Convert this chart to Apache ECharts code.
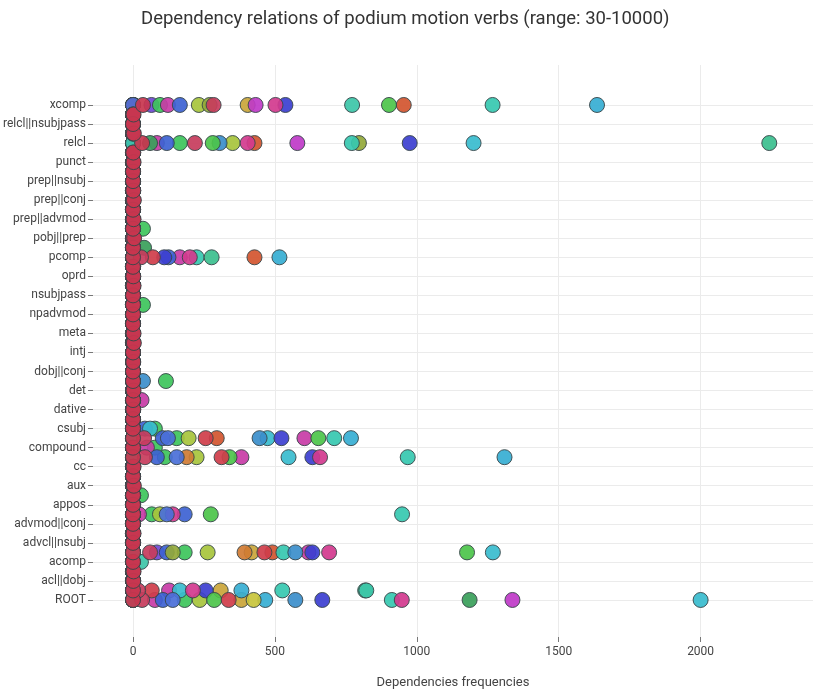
<!DOCTYPE html>
<html>
<head>
<meta charset="utf-8">
<script src="https://cdn.jsdelivr.net/npm/echarts@6/dist/echarts.min.js"></script>
<style>
html,body{margin:0;padding:0;background:#fff;}
#chart{width:813px;height:694px;}
</style>
</head>
<body>
<div id="chart"></div>
<script>
// ---- data ----
const categories = [
  'ROOT','acl','acl||dobj','acl||pobj','acomp','advcl','advcl||nsubj','advmod','advmod||conj','amod',
  'appos','attr','aux','auxpass','cc','ccomp','compound','conj','csubj','csubjpass',
  'dative','dep','det','dobj','dobj||conj','expl','intj','mark','meta','neg',
  'npadvmod','nsubj','nsubjpass','nummod','oprd','parataxis','pcomp','pobj','pobj||prep','prep',
  'prep||advmod','prep||amod','prep||conj','prep||dobj','prep||nsubj','prt','punct','quantmod','relcl','relcl||dobj',
  'relcl||nsubjpass','relcl||pobj','xcomp'
];
const yTickLabels = [
  'ROOT','acl||dobj','acomp','advcl||nsubj','advmod||conj','appos','aux','cc','compound','csubj',
  'dative','det','dobj||conj','intj','meta','npadvmod','nsubjpass','oprd','pcomp','pobj||prep',
  'prep||advmod','prep||conj','prep||nsubj','punct','relcl','relcl||nsubjpass','xcomp'
];
const xTickValues = [0, 500, 1000, 1500, 2000];

// frequencies per verb (relations not listed are 0)
const verb01 = [];
const verb02 = [['xcomp',65],['advcl',84]];
const verb03 = [['xcomp',95],['relcl',165],['prep',35],['nsubj',35],['dobj',116],['csubj',77],['compound',77],['conj',154],['ccomp',112],['attr',28],['amod',66],['advcl',182],['ROOT',182]];
const verb04 = [['xcomp',123],['relcl',84],['pcomp',165],['dep',30],['compound',49],['conj',604],['ccomp',382],['amod',21],['advcl',618],['acl',127],['ROOT',77]];
const verb05 = [['xcomp',165],['relcl',119],['pcomp',125],['csubj',42],['conj',105],['ccomp',84],['amod',182],['advcl',119],['ROOT',105]];
const verb06 = [['xcomp',232],['relcl',351],['conj',196],['ccomp',224],['amod',95],['advcl',263],['ROOT',235]];
const verb07 = [['xcomp',270],['relcl',796],['advcl',140]];
const verb08 = [['xcomp',954],['relcl',428],['pcomp',428],['conj',295],['advcl',491]];
const verb09 = [['xcomp',404],['advcl',418],['acl',309],['ROOT',382]];
const verb10 = [['xcomp',1267],['relcl',771],['pcomp',224],['conj',709],['ccomp',968],['amod',948],['advcl',530],['acl',526],['ROOT',912]];
const verb11 = [['relcl',1200],['csubj',60],['conj',474],['ccomp',548],['advcl',1268],['acl',165],['ROOT',2000]];
const verb12 = [['relcl',305],['dobj',35],['conj',446],['advcl',572],['ROOT',572]];
const verb13 = [['xcomp',537],['relcl',975],['pcomp',110],['conj',523],['ccomp',632],['advcl',632],['acl',256],['ROOT',667]];
const verb14 = [['relcl',60],['pobj',39],['ROOT',1186]];
const verb15 = [['xcomp',502],['relcl',404],['pcomp',200],['ccomp',659],['amod',140],['advcl',691],['acl',211],['ROOT',947]];
const verb16 = [['xcomp',1635],['pcomp',516],['conj',768],['ccomp',1309],['acl',382],['ROOT',466]];
const verb17 = [['xcomp',902],['relcl',281],['conj',653],['ccomp',340],['amod',274],['advcl',1177],['ROOT',286]];
const verb18 = [['xcomp',432],['relcl',579],['ROOT',1337]];
const verb19 = [['relcl',2242],['pcomp',277],['acl',818]];
const verb20 = [['ROOT',425]];
const verb21 = [['ccomp',189],['advcl',393]];
const verb22 = [['pcomp',70],['conj',256],['ccomp',312],['advcl',463],['acl',66],['ROOT',337]];
const verb23 = [['conj',123],['ccomp',154],['amod',119],['ROOT',140]];
const verb24 = [['xcomp',772],['acl',822],['acomp',28]];
const verb25 = [['xcomp',284],['relcl',218],['pcomp',28],['conj',39],['ccomp',42],['advcl',60],['acl',18],['ROOT',32]];
const verb26 = [['xcomp',35],['relcl',32],['relcl||pobj',2],['relcl||dobj',3],['quantmod',1],['punct',2],['prep||dobj',1],['prep||conj',3],['prep||advmod',2],['pobj||prep',4],['oprd',1],['nummod',2],['meta',2],['mark',3],['expl',1],['det',2],['dative',1],['cc',2],['aux',3],['advmod',2],['acl||dobj',1],['acl||pobj',2]];

const verbNames = ['verb 01','verb 02','verb 03','verb 04','verb 05','verb 06','verb 07','verb 08','verb 09','verb 10','verb 11','verb 12','verb 13','verb 14','verb 15','verb 16','verb 17','verb 18','verb 19','verb 20','verb 21','verb 22','verb 23','verb 24','verb 25','verb 26'];
const verbValues = [verb01,verb02,verb03,verb04,verb05,verb06,verb07,verb08,verb09,verb10,verb11,verb12,verb13,verb14,verb15,verb16,verb17,verb18,verb19,verb20,verb21,verb22,verb23,verb24,verb25,verb26];

// ---- styles ----
const colors = ['#9b4dca','#6f48d4','#3dc45b','#c83ba6','#3d62d2','#a7c43c','#93a83a','#d2552f','#caa53a','#36c8b0',
                '#38bcce','#3b8ecb','#3c3fd0','#3aa05a','#d23a8e','#36aed2','#4cc44a','#bf3ac8','#3bbf8e','#c8c43b',
                '#d07b33','#cf3d4a','#4a6fd8','#3cc6a8','#c73c5c','#c8354e'];

const series = verbNames.map((name, k) => {
  const m = new Map(verbValues[k]);
  return {
    name: name,
    type: 'scatter',
    symbol: 'circle',
    symbolSize: 15,
    itemStyle: { color: colors[k], borderColor: '#38474a', borderWidth: 1, opacity: 0.92 },
    emphasis: { disabled: true },
    data: categories.map((c, i) => [m.has(c) ? m.get(c) : 0, i])
  };
});

const yTickIdx = yTickLabels.map(l => categories.indexOf(l));
const FONT = 'Roboto, sans-serif';

const chart = echarts.init(document.getElementById('chart'), null, { renderer: 'canvas' });
chart.setOption({
  animation: false,
  backgroundColor: '#fff',
  title: {
    text: 'Dependency relations of podium motion verbs (range: 30-10000)',
    left: 136,
    top: 5,
    textStyle: { fontFamily: FONT, fontSize: 18.5, fontWeight: 'normal', color: '#333' }
  },
  grid: { left: 90, right: 0, top: 65, bottom: 57, containLabel: false },
  xAxis: {
    type: 'value',
    min: -141,
    max: 2396,
    name: 'Dependencies frequencies',
    nameLocation: 'middle',
    nameGap: 39,
    nameTextStyle: { fontFamily: FONT, fontSize: 13, color: '#444' },
    axisLine: { show: false, onZero: false },
    axisTick: { show: true, customValues: xTickValues, length: 5, lineStyle: { color: '#777' } },
    axisLabel: { customValues: xTickValues, margin: 9, fontFamily: FONT, fontSize: 12, color: '#444',
                 formatter: v => String(v) },
    splitLine: { show: true, lineStyle: { color: '#ebebeb', width: 1 } }
  },
  yAxis: {
    type: 'value',
    min: -3.89,
    max: 56.2,
    axisLine: { show: false, onZero: false },
    axisTick: { show: true, customValues: yTickIdx, length: 5, lineStyle: { color: '#777' } },
    axisLabel: {
      customValues: yTickIdx,
      margin: 7,
      fontFamily: FONT, fontSize: 12, color: '#444',
      formatter: v => categories[Math.round(v)]
    },
    splitLine: { show: true, lineStyle: { color: '#ebebeb', width: 1 } }
  },
  series: series
});
</script>
</body>
</html>
